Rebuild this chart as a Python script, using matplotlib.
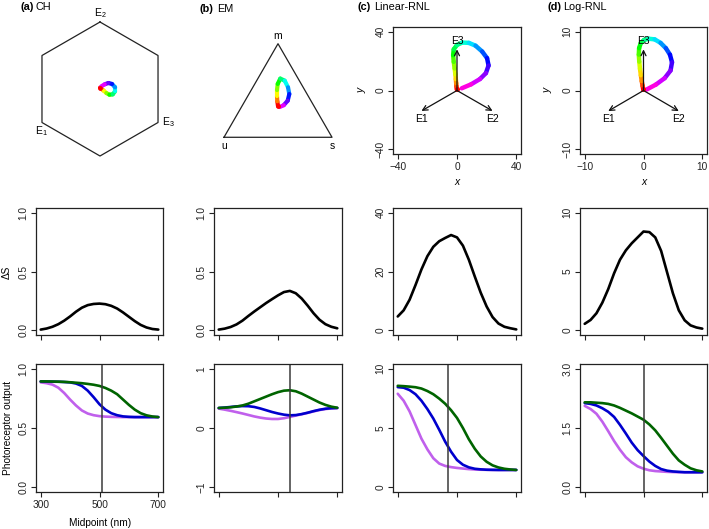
import numpy as np
import matplotlib
matplotlib.use('Agg')
import matplotlib.pyplot as plt
from matplotlib.collections import LineCollection
import colorsys

plt.rcParams['font.family'] = ['Liberation Sans', 'DejaVu Sans']
plt.rcParams['mathtext.fontset'] = 'custom'
plt.rcParams['mathtext.rm'] = 'Liberation Sans'
plt.rcParams['mathtext.it'] = 'Liberation Sans:italic'

W, H = 709, 529

# ---------------- data ----------------
midpoint = [300, 320, 340, 360, 380, 400, 420, 440, 460, 480, 500,
            520, 540, 560, 580, 600, 620, 640, 660, 680, 700]

# Delta S per model
dS_CH = [0.006, 0.015, 0.03, 0.052, 0.082, 0.118, 0.158, 0.192, 0.214, 0.224, 0.227,
         0.222, 0.208, 0.185, 0.152, 0.115, 0.078, 0.046, 0.024, 0.011, 0.006]
dS_EM = [0.006, 0.014, 0.028, 0.05, 0.082, 0.122, 0.16, 0.196, 0.232, 0.265, 0.297,
         0.325, 0.335, 0.315, 0.27, 0.21, 0.145, 0.09, 0.052, 0.03, 0.017]
dS_LinRNL = [4.7, 6.8, 10.4, 15.4, 20.7, 25.2, 28.4, 30.3, 31.4, 32.4, 31.6,
             28.8, 24.0, 18.3, 12.8, 8.1, 4.5, 2.3, 1.2, 0.7, 0.3]
dS_LogRNL = [0.55, 0.88, 1.45, 2.35, 3.5, 4.85, 6.0, 6.8, 7.4, 7.9, 8.4,
             8.35, 7.9, 6.75, 4.95, 3.15, 1.7, 0.85, 0.42, 0.24, 0.14]

# photoreceptor outputs (violet, blue, green)
CH_v = [0.885, 0.878, 0.866, 0.84, 0.795, 0.74, 0.69, 0.648, 0.622, 0.608, 0.600,
        0.596, 0.594, 0.593, 0.592, 0.592, 0.592, 0.592, 0.592, 0.592, 0.592]
CH_b = [0.893, 0.892, 0.891, 0.89, 0.888, 0.885, 0.875, 0.855, 0.815, 0.76, 0.70,
        0.655, 0.625, 0.608, 0.598, 0.594, 0.592, 0.592, 0.592, 0.592, 0.592]
CH_g = [0.893, 0.893, 0.892, 0.891, 0.889, 0.886, 0.882, 0.878, 0.872, 0.865, 0.855,
        0.838, 0.815, 0.785, 0.74, 0.695, 0.655, 0.625, 0.607, 0.597, 0.592]

EM_v = [0.327, 0.31, 0.29, 0.268, 0.245, 0.22, 0.195, 0.175, 0.16, 0.152, 0.152,
        0.165, 0.186, 0.21, 0.232, 0.255, 0.28, 0.303, 0.32, 0.33, 0.335]
EM_b = [0.338, 0.345, 0.355, 0.365, 0.37, 0.368, 0.355, 0.33, 0.30, 0.27, 0.245,
        0.225, 0.214, 0.218, 0.235, 0.258, 0.285, 0.308, 0.325, 0.335, 0.338]
EM_g = [0.338, 0.342, 0.35, 0.362, 0.38, 0.41, 0.45, 0.49, 0.53, 0.57, 0.605,
        0.63, 0.637, 0.62, 0.58, 0.53, 0.48, 0.43, 0.39, 0.36, 0.342]

Lin_v = [7.89, 7.3, 6.4, 5.25, 4.1, 3.2, 2.45, 2.0, 1.8, 1.7, 1.63,
         1.58, 1.53, 1.5, 1.48, 1.47, 1.46, 1.46, 1.46, 1.46, 1.46]
Lin_b = [8.45, 8.4, 8.2, 7.85, 7.3, 6.6, 5.8, 4.85, 3.85, 3.0, 2.3,
         1.9, 1.68, 1.56, 1.51, 1.48, 1.47, 1.46, 1.46, 1.46, 1.46]
Lin_g = [8.56, 8.53, 8.49, 8.44, 8.33, 8.12, 7.85, 7.48, 7.05, 6.5, 5.85,
         5.0, 4.05, 3.25, 2.6, 2.15, 1.85, 1.67, 1.56, 1.5, 1.46]

Log_v = [2.06, 1.98, 1.86, 1.66, 1.42, 1.17, 0.95, 0.76, 0.63, 0.53, 0.47,
         0.43, 0.41, 0.40, 0.39, 0.385, 0.38, 0.38, 0.38, 0.38, 0.38]
Log_b = [2.13, 2.11, 2.07, 2.0, 1.91, 1.78, 1.58, 1.36, 1.13, 0.94, 0.79,
         0.65, 0.54, 0.46, 0.42, 0.40, 0.39, 0.38, 0.38, 0.38, 0.38]
Log_g = [2.15, 2.15, 2.14, 2.13, 2.11, 2.07, 2.01, 1.94, 1.87, 1.79, 1.71,
         1.59, 1.44, 1.25, 1.05, 0.85, 0.68, 0.57, 0.48, 0.43, 0.40]

# midpoint of max Delta S (vertical lines)
peak_mid = [510, 539, 470, 502]

# colour-space trajectories
traj_CH_x = [0.0, 0.02, 0.055, 0.095, 0.14, 0.19, 0.225, 0.225, 0.18, 0.125, 0.07, 0.02]
traj_CH_y = [0.02, 0.005, -0.025, -0.06, -0.085, -0.08, -0.035, 0.025, 0.075, 0.09, 0.07, 0.04]

traj_EM_x = [0.0, -0.009, -0.013, -0.013, -0.004, 0.03, 0.088, 0.131, 0.148, 0.127, 0.075, 0.022]
traj_EM_y = [0.0, 0.063, 0.128, 0.21, 0.29, 0.36, 0.333, 0.246, 0.158, 0.071, 0.012, -0.012]

traj_Lin_x = [-0.2, -0.35, -0.55, -0.8, -1.1, -1.6, -2.2, -2.6, -2.2, 0.0,
              3.5, 8.0, 12.5, 17.0, 20.3, 21.3, 19.5, 15.5, 9.5, 3.2]
traj_Lin_y = [0.8, 2.8, 5.0, 7.8, 11.0, 15.0, 19.5, 24.0, 28.0, 31.0,
              32.6, 32.4, 30.5, 26.5, 22.0, 17.0, 11.8, 7.8, 4.2, 1.5]

traj_Log_x = [-0.05, -0.15, -0.3, -0.45, -0.6, -0.72, -0.8, -0.75, -0.45, 0.1,
              0.9, 1.9, 2.9, 3.8, 4.5, 4.85, 4.6, 3.6, 2.1, 0.5]
traj_Log_y = [0.2, 0.8, 1.6, 2.6, 3.7, 4.9, 6.1, 7.2, 8.1, 8.6,
              8.8, 8.7, 8.1, 7.2, 6.1, 4.8, 3.4, 2.1, 1.0, 0.15]

receptor_vectors_Lin = {'E1': (-24.0, -13.9), 'E2': (24.0, -13.9), 'E3': (0.0, 28.0)}
receptor_vectors_Log = {'E1': (-6.0, -3.5), 'E2': (6.0, -3.5), 'E3': (0.0, 7.0)}

col_v, col_b, col_g = '#C060EC', '#0000CD', '#006400'

# ---------------- helpers ----------------
fig = plt.figure(figsize=(W / 100, H / 100), dpi=100)


def ax_px(l, t, r, b):
    return fig.add_axes([l / W, 1 - b / H, (r - l) / W, (b - t) / H])


def ftext(x, y, s, **kw):
    fig.text(x / W, 1 - y / H, s, **kw)


def style(ax, xticks, yticks, ylabs, xlabs=None):
    for sp in ax.spines.values():
        sp.set_linewidth(0.9)
        sp.set_color('#222222')
    ax.set_xticks(xticks)
    ax.set_yticks(yticks)
    ax.set_yticklabels(ylabs, rotation=90, va='center')
    if xlabs is None:
        ax.set_xticklabels([''] * len(xticks))
    else:
        ax.set_xticklabels(xlabs)
    ax.tick_params(direction='out', length=3.5, width=0.8, labelsize=7.3,
                   colors='#222222', pad=2.5)
    ax.tick_params(axis='y', pad=2)


def rainbow_line(ax, x, y, lw):
    pts = np.column_stack([x, y])
    segs = np.stack([pts[:-1], pts[1:]], axis=1)
    n = len(x)
    cols = [colorsys.hsv_to_rgb(i / (n - 1) * 0.9, 1, 1) for i in range(n - 1)]
    lc = LineCollection(segs, colors=cols, linewidths=lw, capstyle='round',
                        joinstyle='round', zorder=2)
    ax.add_collection(lc)
    ax.scatter([x[0]], [y[0]], s=lw * 4, color=colorsys.hsv_to_rgb(0, 1, 1), zorder=2.5, lw=0)


cols_x = [(36, 163), (214, 342), (393, 521), (580, 707)]
XL = (284, 716)

# ---------------- row 1 ----------------
# (a) colour hexagon
axh = ax_px(20, 2, 180, 172)
axh.set_xlim(-80 / 67, 80 / 67)
axh.set_ylim(-83 / 67, 87 / 67)
axh.axis('off')
ang = np.deg2rad([90, 30, -30, -90, -150, 150, 90])
axh.plot(np.cos(ang), np.sin(ang), color='#222222', lw=0.9)
rainbow_line(axh, traj_CH_x, traj_CH_y, 3.0)
axh.text(0, 1.14, 'E$_2$', ha='center', va='center', fontsize=7.5)
axh.text(-0.87, -0.627, 'E$_1$', ha='center', va='center', fontsize=7.5)
axh.text(1.015, -0.494, 'E$_3$', ha='center', va='center', fontsize=7.5)

# (b) EM triangle
axt = ax_px(200, 25, 356, 160)
axt.set_xlim(-78 / 76.4, 78 / 76.4)
axt.set_ylim((106.1 - 160) / 76.4, (106.1 - 25) / 76.4)
axt.axis('off')
tx = [-0.7071, 0.7071, 0.0, -0.7071]
ty = [-0.4082, -0.4082, 0.8165, -0.4082]
axt.plot(tx, ty, color='#222222', lw=0.9)
rainbow_line(axt, traj_EM_x, traj_EM_y, 3.0)
axt.text(0, 0.924, 'm', ha='center', va='center', fontsize=7.5)
axt.text(-0.703, -0.522, 'u', ha='center', va='center', fontsize=7.5)
axt.text(0.711, -0.522, 's', ha='center', va='center', fontsize=7.5)

# (c), (d) RNL spaces
for (l, r), lim, tk, tx_, ty_, vecs, lab_off in [
        (cols_x[2], 43.2, [-40, 0, 40], traj_Lin_x, traj_Lin_y, receptor_vectors_Lin, 5.6),
        (cols_x[3], 10.8, [-10, 0, 10], traj_Log_x, traj_Log_y, receptor_vectors_Log, 1.4)]:
    ax = ax_px(l, 27, r, 154)
    ax.set_xlim(-lim, lim)
    ax.set_ylim(-lim, lim)
    labs = [('\u2212' + str(-t)) if t < 0 else str(t) for t in tk]
    style(ax, tk, tk, labs, labs)
    rainbow_line(ax, tx_, ty_, 3.2)
    for name, (vx, vy) in vecs.items():
        ax.annotate('', xy=(vx, vy), xytext=(0, 0),
                    arrowprops=dict(arrowstyle='->', lw=0.9, color='#111111',
                                    mutation_scale=9, shrinkA=0, shrinkB=0), zorder=3)
        if name == 'E3':
            ax.text(vx, vy + lab_off, name, ha='center', va='center', fontsize=7.5, zorder=4)
        else:
            ax.text(vx, vy - lab_off, name, ha='center', va='center', fontsize=7.5, zorder=4)
ftext(457, 182, 'x', ha='center', va='center', fontsize=7.5, style='italic')
ftext(644, 182, 'x', ha='center', va='center', fontsize=7.5, style='italic')
ftext(362, 90, 'y', ha='center', va='center', fontsize=7.5, style='italic', rotation=90)
ftext(548, 90, 'y', ha='center', va='center', fontsize=7.5, style='italic', rotation=90)

# ---------------- row 2: Delta S ----------------
row2 = [(dS_CH, (-0.04, 1.04), [0, 0.5, 1.0], ['0.0', '0.5', '1.0']),
        (dS_EM, (-0.04, 1.04), [0, 0.5, 1.0], ['0.0', '0.5', '1.0']),
        (dS_LinRNL, (-1.6, 41.6), [0, 20, 40], ['0', '20', '40']),
        (dS_LogRNL, (-0.4, 10.4), [0, 5, 10], ['0', '5', '10'])]
for (l, r), (vals, yl, yt, ylab) in zip(cols_x, row2):
    ax = ax_px(l, 208, r, 335)
    ax.plot(midpoint, vals, color='black', lw=1.9, solid_capstyle='round')
    ax.set_xlim(*XL)
    ax.set_ylim(*yl)
    style(ax, [300, 500, 700], yt, ylab)
ftext(7, 272, '\u0394S', ha='center', va='center', fontsize=7.3, rotation=90)

# ---------------- row 3: photoreceptor output ----------------
row3 = [((CH_v, CH_b, CH_g), (-0.04, 1.04), [0, 0.5, 1.0], ['0.0', '0.5', '1.0']),
        ((EM_v, EM_b, EM_g), (-1.08, 1.08), [-1, 0, 1], ['\u22121', '0', '1']),
        ((Lin_v, Lin_b, Lin_g), (-0.4, 10.4), [0, 5, 10], ['0', '5', '10']),
        ((Log_v, Log_b, Log_g), (-0.12, 3.12), [0, 1.5, 3.0], ['0.0', '1.5', '3.0'])]
for k, ((l, r), (series, yl, yt, ylab), pm) in enumerate(zip(cols_x, row3, peak_mid)):
    ax = ax_px(l, 364, r, 492)
    for s, c in zip(series, (col_v, col_b, col_g)):
        ax.plot(midpoint, s, color=c, lw=1.9, solid_capstyle='round')
    ax.axvline(pm, color='#3a3a3a', lw=1.1)
    ax.set_xlim(*XL)
    ax.set_ylim(*yl)
    style(ax, [300, 500, 700], yt, ylab, ['300', '500', '700'] if k == 0 else None)
ftext(100, 523, 'Midpoint (nm)', ha='center', va='center', fontsize=7.3)
ftext(8, 428, 'Photoreceptor output', ha='center', va='center', fontsize=7.3, rotation=90)

# ---------------- panel titles ----------------
for x1, x2, y, tag, name in [(20.5, 36, 7.5, '(a)', 'CH'), (199, 217, 9, '(b)', 'EM'),
                              (357.5, 374, 7.5, '(c)', 'Linear-RNL'), (548, 563, 7.5, '(d)', 'Log-RNL')]:
    ftext(x1, y, tag, ha='left', va='center', fontsize=7.8, fontweight='bold')
    ftext(x2, y, name, ha='left', va='center', fontsize=7.8)

fig.savefig('out.png', dpi=100)
